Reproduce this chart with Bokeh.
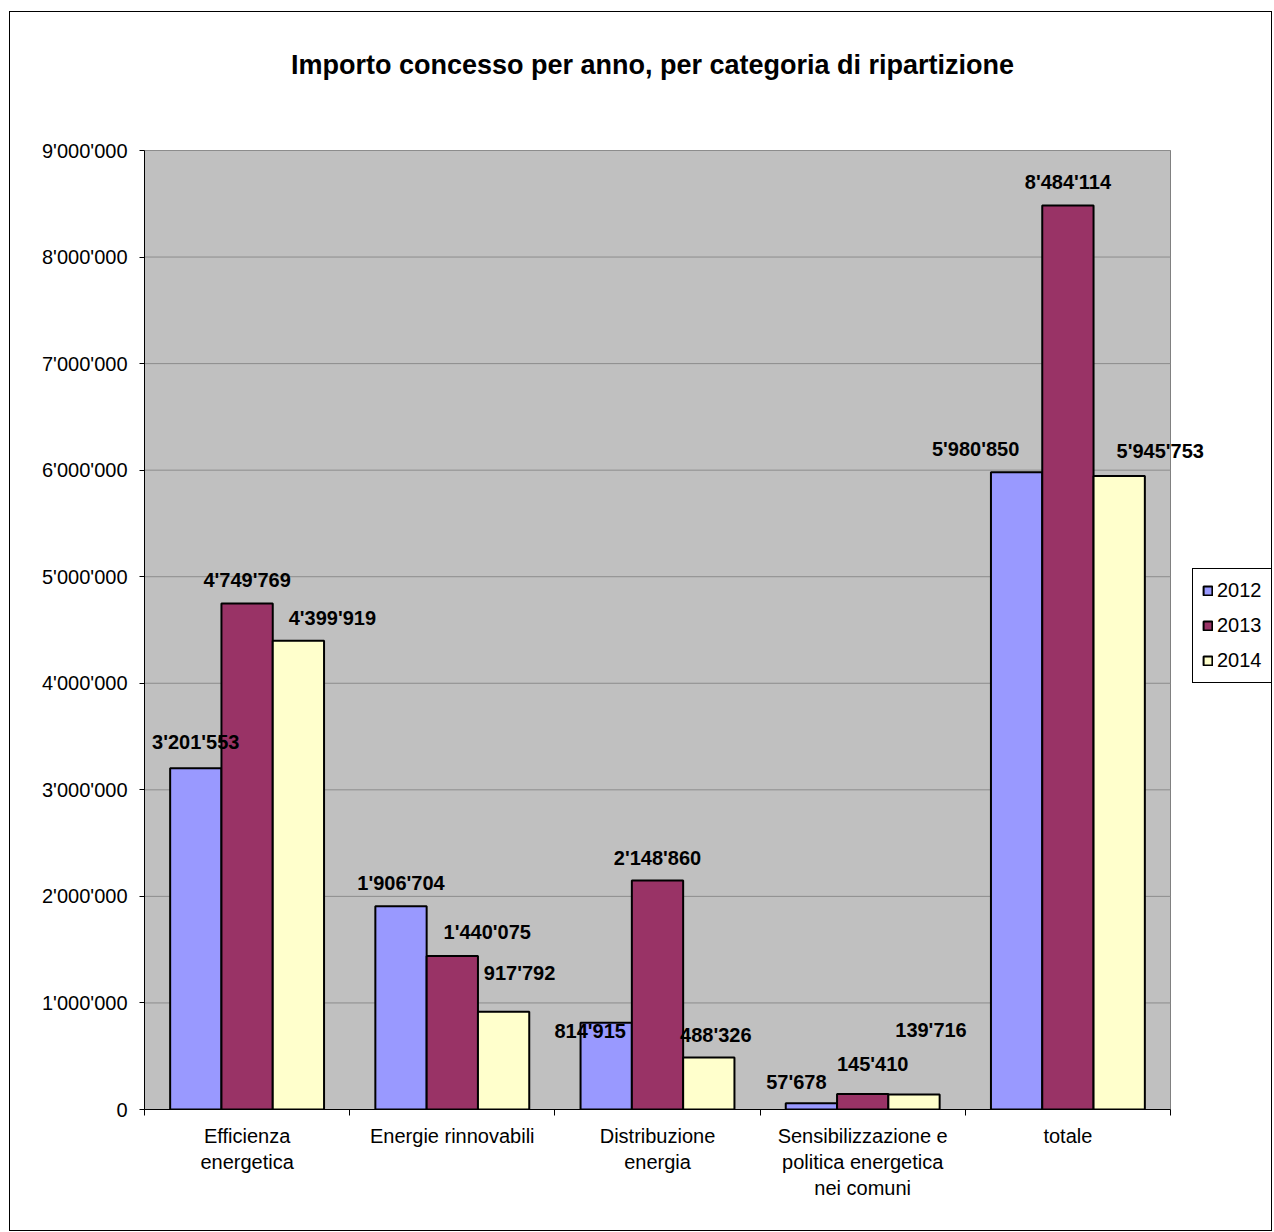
from bokeh.plotting import figure
from bokeh.models import (ColumnDataSource, Range1d, FixedTicker, Legend, LegendItem, Label, BoxAnnotation)
from bokeh.core.properties import value
from bokeh.embed import file_html
from bokeh.resources import INLINE

# ---- data ----
categories = ["Efficienza\nenergetica", "Energie rinnovabili", "Distribuzione\nenergia",
              "Sensibilizzazione e\npolitica energetica\nnei comuni", "totale"]
years = ["2012", "2013", "2014"]
v2012 = [3201553, 1906704, 814915, 57678, 5980850]
v2013 = [4749769, 1440075, 2148860, 145410, 8484114]
v2014 = [4399919, 917792, 488326, 139716, 5945753]
y_ticks = [0, 1000000, 2000000, 3000000, 4000000, 5000000, 6000000, 7000000, 8000000, 9000000]
y_max = 9000000

# label nudges (screen px) to mimic hand-placed data labels
label_dx = {"2012": [0, 0, -16, -15, -41], "2013": [0, 35, 0, 10, 0], "2014": [34, 16, 7, 17, 41]}
label_dy = {"2012": [26, 23, -8, 21, 23], "2013": [23, 24, 23, 30, 23], "2014": [23, 39, 22, 65, 25]}

colors = {"2012": "#9999FF", "2013": "#993366", "2014": "#FFFFCC"}
series = {"2012": v2012, "2013": v2013, "2014": v2014}

FONT = "Liberation Sans"


def fmt(v):
    return f"{v:,}".replace(",", "'")


n = len(categories)

# geometry (px): the grey plot area plus extra room right/top inside the frame
PLOT_W, PLOT_H = 1026, 959
EXTRA_R, EXTRA_T = 101, 138
x_end = n * (PLOT_W + EXTRA_R) / PLOT_W
y_end = y_max * (PLOT_H + EXTRA_T) / PLOT_H

p = figure(frame_width=PLOT_W + EXTRA_R, frame_height=PLOT_H + EXTRA_T,
           output_backend="svg", toolbar_location=None,
           x_range=Range1d(0, x_end), y_range=Range1d(0, y_end),
           min_border_left=134, min_border_right=0, min_border_top=0, min_border_bottom=121)
p.styles = {"border": "1px solid #000000"}
p.margin = (11, 0, 0, 9)
p.border_fill_color = "#FFFFFF"
p.background_fill_color = "#FFFFFF"
p.outline_line_color = None

# grey plot area
p.add_layout(BoxAnnotation(left=0, right=n, bottom=0, top=y_max, fill_color="#C0C0C0",
                           fill_alpha=1.0, line_color="#808080", line_alpha=1.0,
                           line_width=1, level="image"))

# horizontal grid lines across the plot area only
p.segment(x0=[0] * len(y_ticks), x1=[n] * len(y_ticks), y0=y_ticks, y1=y_ticks,
          line_color="#8C8C8C", line_width=1, level="underlay")

# title
p.add_layout(Label(x=n / 2, y=y_max, x_offset=-5, y_offset=86,
                   text="Importo concesso per anno, per categoria di ripartizione",
                   text_font=FONT, text_font_size="27px", text_font_style="bold",
                   text_align="center", text_baseline="middle", text_color="#000000"))

items = []
sources = []
for j, yr in enumerate(years):
    vals = series[yr]
    xs = [i + 0.5 + (j - 1) * 0.25 for i in range(n)]
    src = ColumnDataSource(dict(x=xs, top=vals, lab=[fmt(v) for v in vals],
                                dx=label_dx[yr], dy=[-d for d in label_dy[yr]]))
    sources.append(src)
    r = p.vbar(x="x", top="top", width=0.25, source=src, fill_color=colors[yr],
               line_color="#000000", line_width=2)
    items.append(LegendItem(label=yr, renderers=[r]))

# data labels on top of all bars
for src in sources:
    p.text(x="x", y="top", text="lab", x_offset="dx", y_offset="dy", source=src,
           text_font=value(FONT), text_font_size="20px", text_font_style="bold",
           text_align="center", text_baseline="middle", text_color="#000000")

legend = Legend(items=items, location=(1048, 426), margin=0, padding=9, spacing=10,
                label_height=25, glyph_height=11, glyph_width=11, label_standoff=4,
                label_text_font=FONT, label_text_font_size="20px", label_text_color="#000000",
                border_line_color="#000000", border_line_alpha=1.0, border_line_width=1,
                background_fill_color="#FFFFFF", background_fill_alpha=1.0)
p.add_layout(legend)

# y axis
p.yaxis.ticker = FixedTicker(ticks=y_ticks)
p.yaxis.bounds = (0, y_max)
p.yaxis.major_label_overrides = {t: fmt(t) for t in y_ticks}
p.yaxis.major_label_text_font = FONT
p.yaxis.major_label_text_font_size = "20px"
p.yaxis.major_label_text_color = "#000000"
p.yaxis.major_tick_out = 5
p.yaxis.major_tick_in = 0
p.yaxis.minor_tick_line_color = None
p.yaxis.axis_line_color = "#000000"
p.yaxis.major_tick_line_color = "#000000"
p.yaxis.major_label_standoff = 12

# x axis
centers = [i + 0.5 for i in range(n)]
p.xaxis.ticker = FixedTicker(ticks=centers, minor_ticks=list(range(n + 1)))
p.xaxis.bounds = (0, n)
p.xaxis.major_label_overrides = {c: lab for c, lab in zip(centers, categories)}
p.xaxis.major_label_text_font = FONT
p.xaxis.major_label_text_font_size = "20px"
p.xaxis.major_label_text_color = "#000000"
p.xaxis.major_tick_out = 0
p.xaxis.major_tick_in = 0
p.xaxis.minor_tick_out = 6
p.xaxis.minor_tick_in = 0
p.xaxis.minor_tick_line_color = "#000000"
p.xaxis.axis_line_color = "#000000"
p.xaxis.major_label_standoff = 9

p.xgrid.grid_line_color = None
p.ygrid.grid_line_color = None

open("out.html", "w").write(file_html(p, INLINE))
